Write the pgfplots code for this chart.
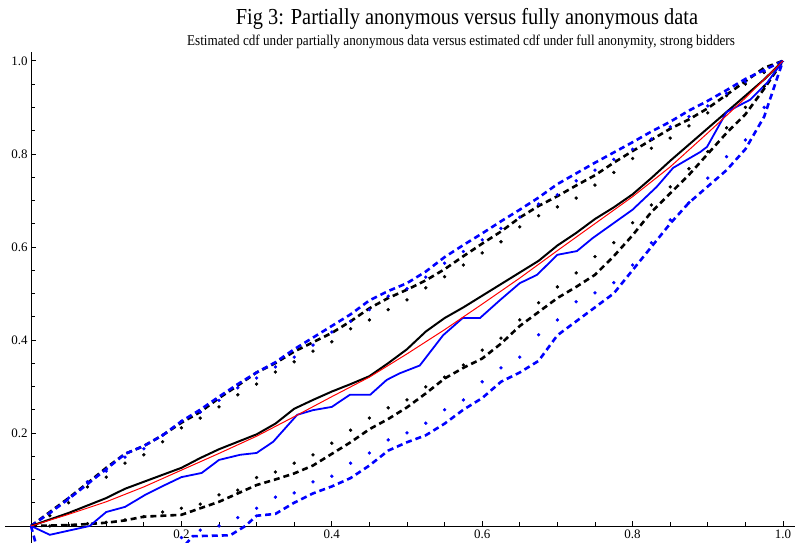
\documentclass[border=0pt]{standalone}
\usepackage{pgfplots}
\pgfplotsset{compat=1.18}
\usepackage{fontspec}
\setmainfont{Liberation Serif}
\begin{document}
\begin{tikzpicture}
\begin{axis}[
  scale only axis, width=790bp, height=491bp,
  xmin=-0.0346, xmax=1.016, ymin=-0.0366, ymax=1.019,
  axis lines=middle, axis line style={-, line width=0.9bp, black},
  xtick={0.2,0.4,0.6,0.8,1.0}, xticklabels={0.2,0.4,0.6,0.8,1.0},
  ytick={0.2,0.4,0.6,0.8,1.0}, yticklabels={0.2,0.4,0.6,0.8,1.0},
  minor xtick={0.05,0.1,0.15,0.25,0.3,0.35,0.45,0.5,0.55,0.65,0.7,0.75,0.85,0.9,0.95},
  minor ytick={0.05,0.1,0.15,0.25,0.3,0.35,0.45,0.5,0.55,0.65,0.7,0.75,0.85,0.9,0.95},
  tick align=inside, major tick length=5bp, minor tick length=4bp,
  every tick/.style={black, line width=0.7bp},
  tick label style={font=\fontsize{13}{13}\selectfont},
  /pgf/number format/assume math mode=true,
  clip=true,
]
% black dashed upper
\addplot[black, line width=2.6bp, dash pattern=on 6bp off 4bp] table {
0 0
0.025 0.03
0.05 0.06
0.075 0.092
0.1 0.125
0.125 0.155
0.15 0.172
0.175 0.195
0.2 0.222
0.225 0.245
0.25 0.275
0.275 0.302
0.3 0.33
0.325 0.35
0.35 0.375
0.375 0.395
0.4 0.415
0.425 0.44
0.45 0.468
0.475 0.49
0.5 0.508
0.525 0.528
0.55 0.552
0.575 0.58
0.6 0.607
0.625 0.633
0.65 0.663
0.675 0.688
0.7 0.709
0.725 0.732
0.75 0.754
0.775 0.781
0.8 0.806
0.825 0.83
0.85 0.854
0.875 0.874
0.9 0.898
0.925 0.927
0.95 0.956
0.975 0.985
1 1
};
% blue dashed upper
\addplot[blue, line width=2.6bp, dash pattern=on 6bp off 4bp] table {
0 0
0.025 0.028
0.05 0.058
0.075 0.09
0.1 0.122
0.125 0.155
0.15 0.172
0.175 0.195
0.2 0.225
0.225 0.25
0.25 0.278
0.275 0.305
0.3 0.33
0.325 0.352
0.35 0.38
0.375 0.405
0.4 0.43
0.425 0.455
0.45 0.485
0.475 0.505
0.5 0.522
0.525 0.547
0.55 0.578
0.575 0.604
0.6 0.629
0.625 0.655
0.65 0.68
0.675 0.706
0.7 0.735
0.725 0.758
0.75 0.781
0.775 0.803
0.8 0.825
0.825 0.848
0.85 0.869
0.875 0.893
0.9 0.914
0.925 0.937
0.95 0.961
0.975 0.98
1 1
};
% black dashed lower
\addplot[black, line width=2.6bp, dash pattern=on 6bp off 4bp] table {
0 0
0.025 0.001
0.05 0.002
0.075 0.004
0.1 0.007
0.125 0.012
0.15 0.02
0.175 0.022
0.2 0.024
0.225 0.038
0.25 0.052
0.275 0.07
0.3 0.088
0.325 0.1
0.35 0.113
0.375 0.13
0.4 0.155
0.425 0.18
0.45 0.208
0.475 0.23
0.5 0.255
0.525 0.285
0.55 0.317
0.575 0.34
0.6 0.36
0.625 0.392
0.65 0.43
0.675 0.46
0.7 0.49
0.725 0.514
0.75 0.54
0.775 0.58
0.8 0.625
0.825 0.675
0.85 0.715
0.875 0.755
0.9 0.8
0.925 0.845
0.95 0.885
0.975 0.94
1 1
};
% blue dashed lower
\addplot[blue, line width=2.6bp, dash pattern=on 6bp off 4bp] table {
0 0
0.01 -0.06
0.1 -0.08
0.2 -0.05
0.215 -0.022
0.265 -0.02
0.285 0
0.3 0.022
0.325 0.026
0.35 0.05
0.375 0.07
0.4 0.085
0.425 0.103
0.45 0.13
0.475 0.162
0.5 0.18
0.525 0.195
0.55 0.22
0.575 0.25
0.6 0.275
0.625 0.31
0.65 0.33
0.675 0.355
0.7 0.41
0.725 0.44
0.75 0.47
0.775 0.5
0.8 0.55
0.825 0.6
0.85 0.65
0.875 0.695
0.9 0.73
0.925 0.765
0.95 0.81
0.975 0.88
1 1
};
% black dots upper
\addplot[black, only marks, mark=*, mark size=1.5bp] table {
0.025 0.022
0.05 0.05
0.075 0.084
0.1 0.105
0.125 0.135
0.15 0.153
0.175 0.181
0.2 0.211
0.225 0.232
0.25 0.256
0.275 0.282
0.3 0.305
0.325 0.331
0.35 0.353
0.375 0.376
0.4 0.396
0.425 0.424
0.45 0.443
0.475 0.465
0.5 0.486
0.525 0.512
0.55 0.536
0.575 0.561
0.6 0.587
0.625 0.611
0.65 0.643
0.675 0.667
0.7 0.686
0.725 0.705
0.75 0.733
0.775 0.76
0.8 0.79
0.825 0.812
0.85 0.834
0.875 0.86
0.9 0.888
0.925 0.925
0.95 0.95
0.975 0.975
};
% blue dots upper
\addplot[blue, only marks, mark=*, mark size=1.5bp] table {
0.025 0.028
0.05 0.06
0.075 0.095
0.1 0.118
0.125 0.148
0.15 0.166
0.175 0.195
0.2 0.225
0.225 0.245
0.25 0.27
0.275 0.297
0.3 0.318
0.325 0.342
0.35 0.363
0.375 0.389
0.4 0.417
0.425 0.44
0.45 0.465
0.475 0.494
0.5 0.51
0.525 0.535
0.55 0.565
0.575 0.59
0.6 0.615
0.625 0.64
0.65 0.664
0.675 0.692
0.7 0.712
0.725 0.742
0.75 0.765
0.775 0.788
0.8 0.81
0.825 0.832
0.85 0.858
0.875 0.88
0.9 0.903
0.925 0.93
0.95 0.955
0.975 0.978
};
% black dots lower
\addplot[black, only marks, mark=*, mark size=1.5bp] table {
0.025 0.0
0.05 0.002
0.075 0.005
0.1 0.008
0.125 0.013
0.15 0.02
0.175 0.03
0.2 0.038
0.225 0.047
0.25 0.067
0.275 0.077
0.3 0.104
0.325 0.116
0.35 0.135
0.375 0.153
0.4 0.178
0.425 0.206
0.45 0.232
0.475 0.254
0.5 0.271
0.525 0.299
0.55 0.32
0.575 0.346
0.6 0.378
0.625 0.404
0.65 0.443
0.675 0.48
0.7 0.514
0.725 0.544
0.75 0.579
0.775 0.609
0.8 0.652
0.825 0.69
0.85 0.729
0.875 0.768
0.9 0.805
0.925 0.856
0.95 0.9
0.975 0.945
};
% blue dots lower
\addplot[blue, only marks, mark=*, mark size=1.5bp] table {
0.2 -0.025
0.225 -0.009
0.25 0.0
0.275 0.018
0.3 0.038
0.325 0.062
0.35 0.071
0.375 0.095
0.4 0.107
0.425 0.135
0.45 0.157
0.475 0.185
0.5 0.2
0.525 0.221
0.55 0.25
0.575 0.271
0.6 0.31
0.625 0.34
0.65 0.363
0.675 0.411
0.7 0.443
0.725 0.482
0.75 0.501
0.775 0.523
0.8 0.561
0.825 0.609
0.85 0.658
0.875 0.695
0.9 0.748
0.925 0.794
0.95 0.83
0.975 0.9
};
% black solid
\addplot[black, line width=2bp] table {
0 0
0.05 0.028
0.1 0.06
0.125 0.08
0.15 0.095
0.175 0.11
0.2 0.125
0.225 0.146
0.25 0.165
0.275 0.181
0.3 0.197
0.325 0.22
0.35 0.252
0.375 0.271
0.4 0.289
0.425 0.305
0.45 0.322
0.475 0.35
0.5 0.38
0.525 0.418
0.55 0.447
0.575 0.47
0.6 0.495
0.625 0.52
0.65 0.545
0.675 0.57
0.7 0.603
0.725 0.63
0.75 0.66
0.775 0.685
0.8 0.713
0.825 0.748
0.85 0.785
0.875 0.82
0.9 0.855
0.925 0.89
0.95 0.925
0.975 0.96
1 1
};
% blue solid
\addplot[blue, line width=1.8bp] table {
0 0
0.025 -0.019
0.078 0
0.1 0.03
0.125 0.041
0.152 0.067
0.178 0.088
0.2 0.105
0.227 0.114
0.25 0.142
0.278 0.153
0.3 0.157
0.322 0.181
0.354 0.239
0.375 0.249
0.4 0.256
0.424 0.282
0.451 0.282
0.473 0.314
0.49 0.328
0.517 0.345
0.548 0.41
0.574 0.447
0.597 0.447
0.624 0.486
0.65 0.522
0.673 0.54
0.70 0.583
0.726 0.591
0.747 0.619
0.8 0.68
0.832 0.729
0.854 0.77
0.89 0.804
0.899 0.815
0.925 0.89
0.956 0.916
0.979 0.953
1 1
};
% red
\addplot[red, line width=1bp] table {
0 0
0.05 0.025
0.1 0.052
0.15 0.084
0.2 0.12
0.25 0.156
0.3 0.193
0.35 0.235
0.4 0.278
0.45 0.32
0.5 0.37
0.55 0.422
0.6 0.477
0.65 0.533
0.7 0.592
0.75 0.65
0.8 0.708
0.85 0.772
0.9 0.845
0.95 0.92
1 1
};
\end{axis}
\node[anchor=base, xscale=0.89, font=\fontsize{23}{23}\selectfont] at ([xshift=67bp, yshift=27bp]current axis.north) {Fig 3: Partially anonymous versus fully anonymous data};
\node[anchor=base, xscale=0.88, font=\fontsize{15}{15}\selectfont] at ([xshift=61bp, yshift=6bp]current axis.north) {Estimated cdf under partially anonymous data versus estimated cdf under full anonymity, strong bidders};
\pgfresetboundingbox
\path ([xshift=-5bp]current axis.south west) rectangle ([yshift=52bp]current axis.north east);
\end{tikzpicture}
\end{document}
